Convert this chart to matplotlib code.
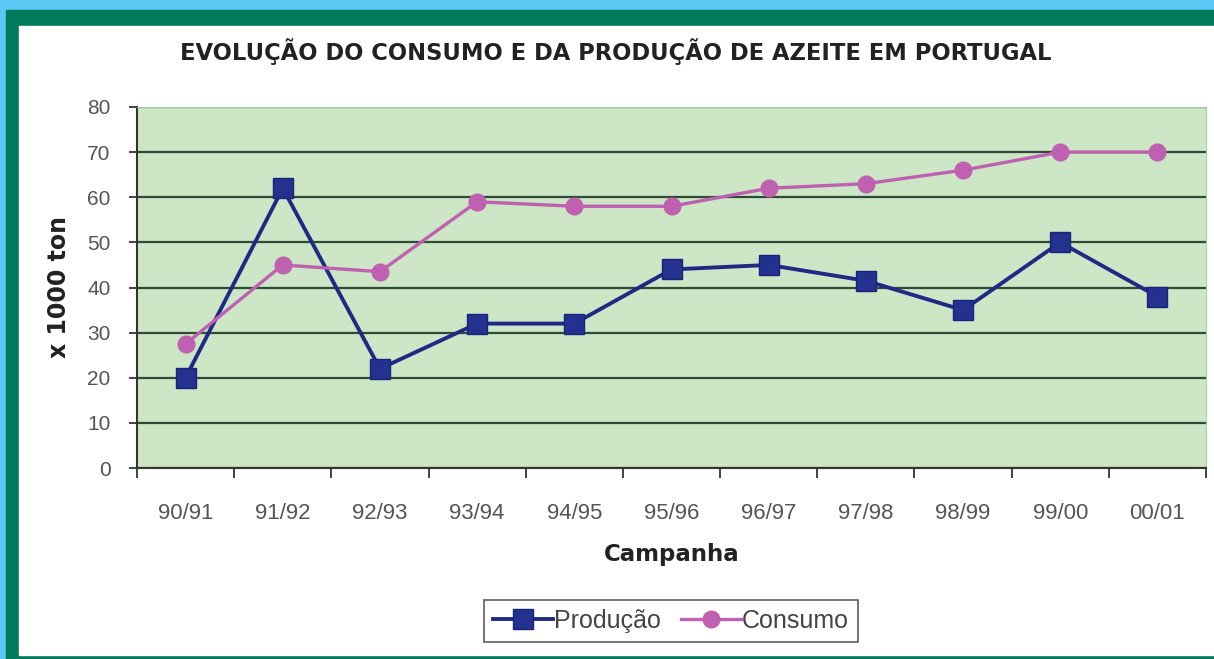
import matplotlib
matplotlib.use("Agg")
import matplotlib.pyplot as plt
from matplotlib.patches import Rectangle

campanhas = ["90/91", "91/92", "92/93", "93/94", "94/95", "95/96",
             "96/97", "97/98", "98/99", "99/00", "00/01"]
producao = [20, 62, 22, 32, 32, 44, 45, 41.5, 35, 50, 38]
consumo = [27.5, 45, 43.5, 59, 58, 58, 62, 63, 66, 70, 70]

W, H = 1214, 659
fig = plt.figure(figsize=(W / 100, H / 100), dpi=100)
fig.patch.set_facecolor("white")

# frame: light blue strip, dark green border
fig.patches.append(Rectangle((0, 0), 1, 1, transform=fig.transFigure,
                             color="#5BC8F5", zorder=-3))
fig.patches.append(Rectangle((6 / W, 0), 1, 1 - 10 / H, transform=fig.transFigure,
                             color="#007A5A", zorder=-2))
fig.patches.append(Rectangle((19 / W, 4 / H), 1, 1 - 30 / H, transform=fig.transFigure,
                             color="white", zorder=-1))

ax = fig.add_axes([137 / W, 1 - 468 / H, (1206 - 137) / W, (468 - 107) / H])
ax.set_facecolor("#CCE6C6")

x = list(range(len(campanhas)))
ax.plot(x, producao, color="#1F2A84", lw=2.8, marker="s", ms=15,
        mfc="#23318F", mec="#1A237A", label="Produção", zorder=3)
ax.plot(x, consumo, color="#C060B0", lw=2.4, marker="o", ms=12,
        mfc="#C060B0", mec="#C060B0", label="Consumo", zorder=3)

ax.set_xlim(-0.5, len(campanhas) - 0.5)
ax.set_ylim(0, 80)
ax.set_yticks(range(0, 81, 10))
ax.yaxis.grid(True, color="#2F4A36", lw=1.6)
ax.set_axisbelow(True)
ax.set_xticks([i + 0.5 for i in range(-1, len(campanhas))])
ax.set_xticklabels([])
ax.set_xticks(x, minor=True)
ax.set_xticklabels(campanhas, minor=True)
ax.tick_params(axis="x", which="minor", length=0, pad=25,
               labelsize=16, labelcolor="#555555")
ax.tick_params(axis="x", which="major", length=7, width=1.3, color="#333333")
ax.tick_params(axis="y", length=6, width=1.3, color="#333333", pad=13,
               labelsize=15, labelcolor="#555555")
for lbl in ax.get_xticklabels(minor=True) + ax.get_yticklabels():
    lbl.set_fontfamily("Liberation Sans")

for side in ["top", "right"]:
    ax.spines[side].set_color("#AACCAA")
for side in ["left", "bottom"]:
    ax.spines[side].set_color("#333333")
    ax.spines[side].set_linewidth(1.5)

ax.set_ylabel("x 1000 ton", fontsize=17, fontweight="bold", labelpad=12,
              family="DejaVu Sans", color="#222222")
ax.set_xlabel("Campanha", fontsize=16.5, fontweight="bold", labelpad=14,
              family="DejaVu Sans", color="#222222")

fig.text(616 / W, 1 - 52 / H, "EVOLUÇÃO DO CONSUMO E DA PRODUÇÃO DE AZEITE EM PORTUGAL",
         ha="center", va="center", fontsize=16.3, fontweight="bold",
         family="DejaVu Sans", color="#222222")

leg = ax.legend(loc="center", bbox_to_anchor=(671 / W, 1 - 621 / H),
                bbox_transform=fig.transFigure, ncol=2, frameon=True,
                fancybox=False, edgecolor="#333333",
                handlelength=2.4, handletextpad=0.05, columnspacing=0.8,
                borderpad=0.35, prop={"family": "Liberation Sans", "size": 18})
leg.get_frame().set_linewidth(1.2)
for t in leg.get_texts():
    t.set_color("#444444")

fig.savefig("out.png", dpi=100)
